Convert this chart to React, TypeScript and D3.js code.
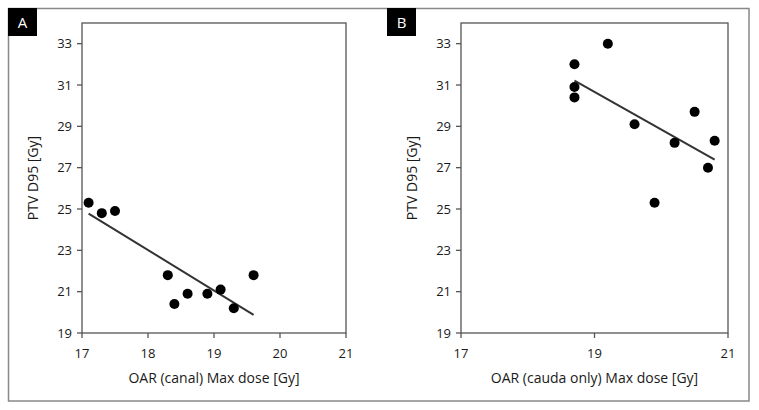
import React from "react";
import * as d3 from "d3";

const canalDose = [17.1, 17.3, 17.5, 18.3, 18.4, 18.6, 18.9, 19.1, 19.3, 19.6];
const canalD95 = [25.3, 24.8, 24.9, 21.8, 20.4, 20.9, 20.9, 21.1, 20.2, 21.8];
const caudaDose = [18.7, 18.7, 18.7, 19.2, 19.6, 19.9, 20.2, 20.5, 20.7, 20.8];
const caudaD95 = [32.0, 30.9, 30.4, 33.0, 29.1, 25.3, 28.2, 29.7, 27.0, 28.3];
const xTicksA = [17, 18, 19, 20, 21];
const xTicksB = [17, 19, 21];
const yTicks = [19, 21, 23, 25, 27, 29, 31, 33];

const FONT = "'Open Sans', sans-serif";

function fit(xs: number[], ys: number[]) {
  const mx = d3.mean(xs)!;
  const my = d3.mean(ys)!;
  let sxy = 0, sxx = 0;
  xs.forEach((x, i) => { sxy += (x - mx) * (ys[i] - my); sxx += (x - mx) * (x - mx); });
  const b = sxy / sxx;
  const a = my - b * mx;
  const [x0, x1] = d3.extent(xs) as [number, number];
  return [[x0, a + b * x0], [x1, a + b * x1]];
}

function Panel({ left, right, xs, ys, xTicks, xLabel, letter, boxX }: any) {
  const x = d3.scaleLinear().domain([17, 21]).range([left, right]);
  const y = d3.scaleLinear().domain([19, 34]).range([333, 23]);
  const line = d3.line<number[]>().x(d => x(d[0])).y(d => y(d[1]));
  const reg = fit(xs, ys);
  const axisColor = "#555";
  const textColor = "#1a1a1a";
  return (
    <g>
      <rect x={boxX} y={8} width={29} height={28} fill="#000" />
      <text x={boxX + 14.5} y={28} fill="#fff" fontSize={15} fontFamily={FONT} textAnchor="middle">{letter}</text>
      <rect x={left} y={23} width={right - left} height={310} fill="none" stroke={axisColor} strokeWidth={1.3} />
      {yTicks.map(t => (
        <g key={"y" + t}>
          <line x1={left - 5} x2={left} y1={y(t)} y2={y(t)} stroke={axisColor} strokeWidth={1.3} />
          <text x={left - 10} y={y(t)} dy="0.35em" textAnchor="end" fontSize={13} fontFamily={FONT} fill={textColor}>{t}</text>
        </g>
      ))}
      {xTicks.map((t: number) => (
        <g key={"x" + t}>
          <line x1={x(t)} x2={x(t)} y1={333} y2={338} stroke={axisColor} strokeWidth={1.3} />
          <text x={x(t)} y={358} textAnchor="middle" fontSize={13} fontFamily={FONT} fill={textColor}>{t}</text>
        </g>
      ))}
      <text x={(left + right) / 2} y={383} textAnchor="middle" fontSize={14} fontFamily={FONT} fill={textColor}>{xLabel}</text>
      <text transform={`translate(${left - 44},${178}) rotate(-90)`} textAnchor="middle" fontSize={14} fontFamily={FONT} fill={textColor}>PTV D95 [Gy]</text>
      <path d={line(reg as any) || ""} fill="none" stroke="#333" strokeWidth={2} />
      {xs.map((v: number, i: number) => (
        <circle key={i} cx={x(v)} cy={y(ys[i])} r={5} fill="#000" />
      ))}
    </g>
  );
}

export default function App() {
  return (
    <svg width={759} height={410} style={{ position: "absolute", left: 0, top: 0, background: "#fff" }}>
      <rect x={0} y={0} width={759} height={410} fill="#fff" />
      <rect x={8.5} y={8.5} width={740.5} height={392.5} fill="none" stroke="#888" strokeWidth={1.5} />
      <Panel left={82} right={346} xs={canalDose} ys={canalD95} xTicks={xTicksA} xLabel="OAR (canal) Max dose [Gy]" letter="A" boxX={8} />
      <Panel left={461} right={728} xs={caudaDose} ys={caudaD95} xTicks={xTicksB} xLabel="OAR (cauda only) Max dose [Gy]" letter="B" boxX={387} />
    </svg>
  );
}
